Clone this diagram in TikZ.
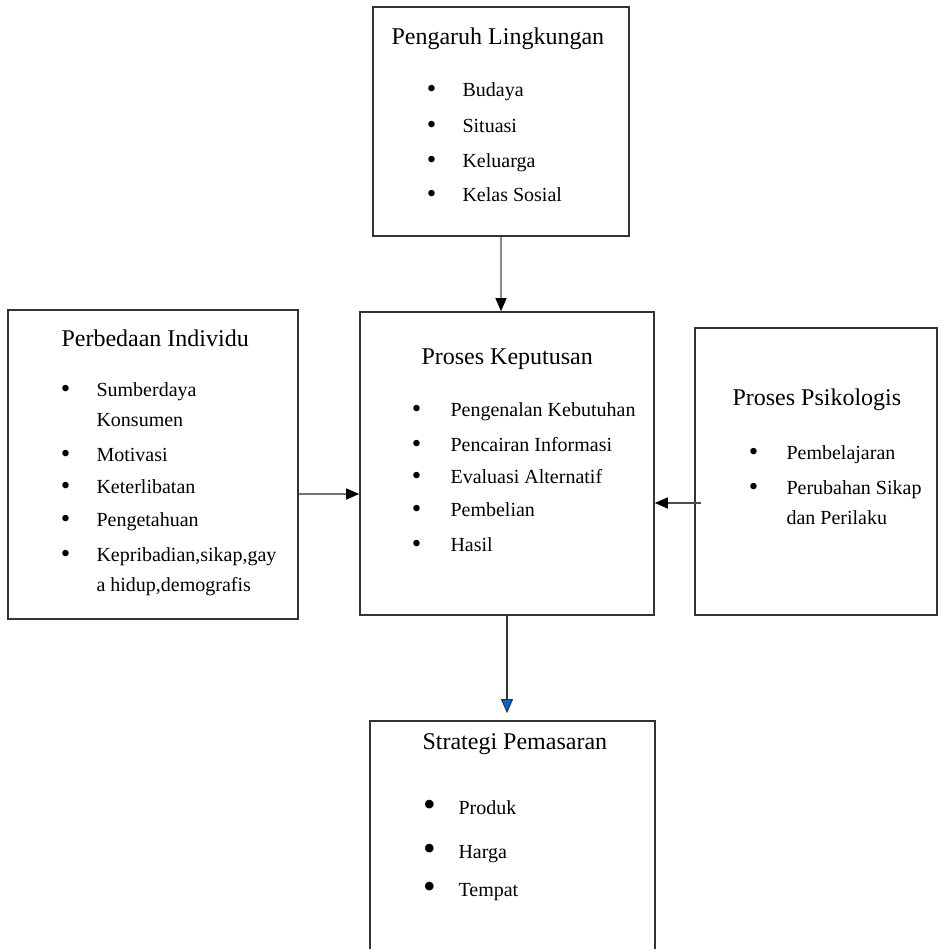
\documentclass[tikz,border=0pt]{standalone}
\usepackage{graphicx}
\usepackage{fontspec}
\setmainfont{Liberation Serif}
\usetikzlibrary{arrows.meta}
\newcommand{\bul}[1]{\llap{\makebox[0pt]{\raisebox{-1pt}{\scalebox{1.35}{\textbullet}}}\hspace{#1pt}}}
\newcommand{\bigbul}[1]{\llap{\makebox[0pt]{\raisebox{-2pt}{\scalebox{1.8}{\textbullet}}}\hspace{#1pt}}}

\begin{document}
\begin{tikzpicture}[x=1pt, y=-1pt,
  box/.style={draw=black!80, line width=1.6pt},
  heading/.style={anchor=base west, font=\fontsize{24}{28}\selectfont},
  entry/.style={anchor=base west, font=\fontsize{20}{24}\selectfont},
  tip/.style={-{Triangle[length=13pt, width=11pt, color=black]}}]

\useasboundingbox[fill=white] (0,0) rectangle (939,949);

% kotak-kotak
\node[box, minimum width=256pt, minimum height=229pt] (ling) at (501,121.5) {};
\node[box, minimum width=294pt, minimum height=303pt] (proses) at (507,463.5) {};
\node[box, minimum width=290pt, minimum height=309pt] (indiv) at (153,464.5) {};
\node[box, minimum width=242pt, minimum height=287pt] (psiko) at (816,471.5) {};
\node[box, minimum width=285pt, minimum height=239pt] (strategi) at (512.5,840.5) {};

% pengaruh lingkungan
\node[heading] (ling0) at (388,45) {Pengaruh Lingkungan};
\node[entry] (ling1) at (459,97) {\bul{31}Budaya};
\node[entry] (ling2) at (459,133) {\bul{31}Situasi};
\node[entry] (ling3) at (459,168) {\bul{31}Keluarga};
\node[entry] (ling4) at (459,202) {\bul{31}Kelas Sosial};

% proses keputusan
\node[heading] (proses0) at (418,364) {Proses Keputusan};
\node[entry] (proses1) at (447,416) {\bul{34}Pengenalan Kebutuhan};
\node[entry] (proses2) at (447,451) {\bul{34}Pencairan Informasi};
\node[entry] (proses3) at (447,483) {\bul{34}Evaluasi Alternatif};
\node[entry] (proses4) at (447,516) {\bul{34}Pembelian};
\node[entry] (proses5) at (447,551) {\bul{34}Hasil};

% perbedaan individu
\node[heading] (indiv0) at (58,346) {Perbedaan Individu};
\node[entry] (indiv1) at (93,396) {\bul{31}Sumberdaya};
\node[entry] (indiv1b) at (93,426) {Konsumen};
\node[entry] (indiv2) at (93,461) {\bul{31}Motivasi};
\node[entry] (indiv3) at (93,493) {\bul{31}Keterlibatan};
\node[entry] (indiv4) at (93,526) {\bul{31}Pengetahuan};
\node[entry] (indiv5) at (93,561) {\bul{31}Kepribadian,sikap,gay};
\node[entry] (indiv5b) at (93,591) {a hidup,demografis};

% proses psikologis
\node[heading] (psiko0) at (729,405) {Proses Psikologis};
\node[entry] (psiko1) at (783,459) {\bul{33}Pembelajaran};
\node[entry] (psiko2) at (783,494) {\bul{33}Perubahan Sikap};
\node[entry] (psiko2b) at (783,524) {dan Perilaku};

% strategi pemasaran
\node[heading] (strategi0) at (419,749) {Strategi Pemasaran};
\node[entry] (strategi1) at (455,814) {\bigbul{29}Produk};
\node[entry] (strategi2) at (455,858) {\bigbul{29}Harga};
\node[entry] (strategi3) at (455,896) {\bigbul{29}Tempat};

% panah
\coordinate (la) at (0,494);
\coordinate (ra) at (701,503);
\draw[tip, line width=1.2pt, black!45] (ling.south) -- (ling.south |- proses.north);
\draw[tip, line width=1.2pt, black!55] (indiv.east |- la) -- (proses.west |- la);
\draw[tip, line width=1.2pt, black!70] (ra) -- (proses.east |- ra);
\draw[line width=2.6pt, black!80, shorten >=7pt,
  -{Triangle[length=14pt, width=12pt, fill=blue!50!cyan!80!black, line width=1pt]}]
  (proses.south) -- (proses.south |- strategi.north);
\end{tikzpicture}
\end{document}
